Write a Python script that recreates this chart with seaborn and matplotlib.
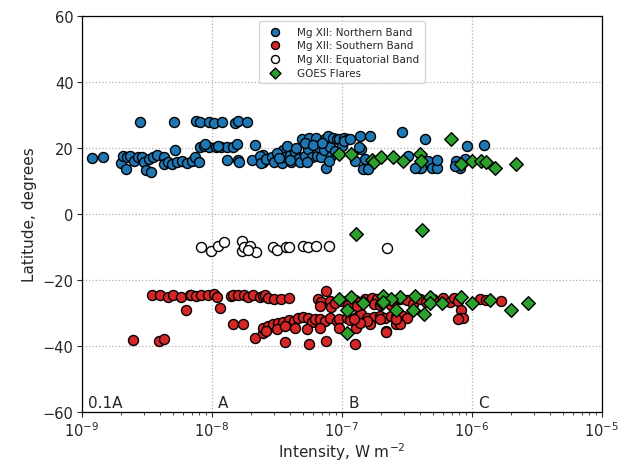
import numpy as np
import pandas as pd
import matplotlib
matplotlib.use("Agg")
import matplotlib.pyplot as plt
import seaborn as sns

# ---- data: log10(intensity [W m^-2]) and latitude [deg] ----
north_logI = [-8.92, -8.84, -8.70, -8.66, -8.68, -8.65, -8.63, -8.60, -8.57, -8.54,
              -8.52, -8.51, -8.47, -8.48, -8.45, -8.42, -8.37, -8.37, -8.34, -8.31,
              -8.28, -8.27, -8.23, -8.19, -8.15, -8.13, -8.10, -8.09, -8.06, -8.02,
              -7.97, -7.93, -7.88, -7.88, -7.84, -8.05, -7.95, -7.81, -7.67, -7.80,
              -7.79, -7.69, -7.61, -7.61,
              -8.55, -8.29, -8.12, -8.09, -8.02, -7.98, -7.92, -7.82, -7.80, -7.73,
              -7.63, -7.62, -7.58, -7.54, -7.52, -7.46, -7.45, -7.44, -7.40, -7.39,
              -7.36, -7.34, -7.32, -7.31, -7.28, -7.26, -7.25, -7.23, -7.20, -7.19,
              -7.18, -7.16, -7.14, -7.13, -7.12, -7.11, -7.09, -7.08, -7.07, -7.04,
              -7.02, -6.98, -6.95, -6.86, -6.78, -6.85, -6.82, -6.81,
              -7.50, -7.42, -7.35, -7.28, -7.22, -7.15, -7.05, -7.00, -7.10, -7.27,
              -7.40, -7.48,
              -6.98, -6.94, -6.87, -6.90, -6.84, -6.80, -6.54, -6.49, -6.36, -6.41,
              -6.39, -6.34, -6.31, -6.27, -6.27, -6.12, -6.09, -6.13, -6.04, -5.91,
              -6.07, -6.44, -6.05]
north_lat = [17.0, 17.4, 15.4, 13.6, 17.7, 17.2, 17.7, 16.0, 17.2, 17.4,
             15.7, 13.3, 12.9, 16.7, 17.4, 17.9, 17.4, 15.1, 15.7, 15.1,
             19.4, 15.7, 16.0, 15.4, 16.0, 17.2, 15.7, 20.4, 20.7, 20.2,
             20.2, 20.2, 20.2, 16.4, 20.2, 21.2, 20.5, 21.2, 20.9, 16.5,
             15.7, 16.5, 15.7, 18.0,
             28.0, 28.0, 28.3, 28.0, 27.8, 27.6, 27.8, 27.6, 28.3, 28.0,
             17.7, 15.4, 16.7, 17.4, 15.7, 15.4, 19.4, 17.2, 18.0, 15.7,
             18.7, 16.7, 15.7, 22.7, 17.7, 19.7, 23.0, 17.2, 23.2, 17.7,
             20.2, 17.2, 19.4, 22.7, 14.1, 23.7, 20.2, 17.7, 23.2, 22.7,
             22.7, 23.2, 22.7, 23.7, 23.7, 19.7, 16.7, 13.6,
             18.5, 20.5, 20.0, 21.5, 21.0, 21.5, 19.0, 20.5, 16.0, 15.8,
             16.5, 17.0,
             22.2, 22.7, 20.2, 16.1, 13.6, 13.6, 24.8, 17.7, 22.9, 14.1,
             14.1, 16.1, 14.1, 14.1, 16.5, 16.1, 14.1, 14.6, 20.5, 20.9,
             15.7, 14.1, 16.7]

south_logI = [-8.46, -8.40, -8.34, -8.30, -8.24, -8.17, -8.16, -8.12, -8.08, -8.03,
              -7.98, -7.96, -7.85, -7.84, -7.80, -7.75, -7.72, -7.68, -7.63, -7.61,
              -7.59, -7.57, -7.52, -7.47, -7.41,
              -8.20, -7.94, -7.84, -7.76, -8.61, -8.41, -8.37, -7.67, -7.61, -7.57,
              -7.12, -7.18, -7.16, -7.09, -7.08, -7.17,
              -7.61, -7.57, -7.53, -7.49, -7.45, -7.41, -7.37, -7.34, -7.30, -7.26,
              -7.23, -7.21, -7.17, -7.13, -7.09, -7.04, -7.02, -6.96, -6.94, -6.90,
              -6.87, -6.85, -6.81, -6.75, -6.71, -6.67, -6.62, -6.58, -6.53, -6.50,
              -7.58, -7.50, -7.44, -7.36, -7.27, -7.17, -7.02, -6.89, -6.78, -6.66,
              -6.58, -7.44, -7.25, -7.12, -6.90,
              -6.82, -6.77, -6.73, -6.65, -6.60, -6.55, -6.50, -6.75, -6.71, -6.62,
              -6.84, -6.45, -6.40, -6.35, -6.30, -6.22, -6.17, -6.14, -6.11, -6.08,
              -6.09, -6.07, -5.94, -5.89, -5.78, -6.55,
              -6.11, -6.66, -6.58, -6.71, -6.81, -6.86, -6.91,
              -7.00, -6.95, -6.90, -7.05, -6.88]
south_lat = [-24.4, -24.6, -25.0, -24.5, -25.2, -24.6, -24.4, -24.8, -24.4, -24.6,
             -24.3, -25.2, -24.8, -24.4, -24.5, -24.6, -25.0, -24.6, -25.0, -24.8,
             -24.5, -25.5, -25.8, -25.8, -25.5,
             -29.1, -28.6, -33.2, -33.2, -38.3, -38.5, -37.8, -37.5, -36.2, -34.4,
             -23.3, -25.8, -26.8, -26.3, -28.2, -27.9,
             -34.4, -33.9, -33.4, -32.9, -32.6, -32.2, -32.4, -31.4, -31.2, -31.4,
             -32.6, -31.9, -31.9, -32.4, -31.6, -32.4, -31.9, -31.4, -32.2, -31.4,
             -30.6, -30.4, -31.4, -31.2, -30.9, -31.4, -30.9, -31.2, -30.9, -31.4,
             -35.4, -34.9, -33.9, -34.4, -34.9, -34.4, -34.4, -34.4, -33.4, -35.4,
             -33.2, -38.7, -39.3, -38.5, -39.3,
             -25.8, -25.5, -25.8, -25.8, -26.3, -25.8, -26.1, -27.3, -27.6, -27.6,
             -26.8, -27.3, -25.8, -26.8, -25.8, -25.3, -26.8, -25.3, -26.3, -29.2,
             -31.4, -31.4, -25.8, -26.1, -26.5, -33.4,
             -31.9, -35.9, -31.9, -31.9, -32.4, -32.9, -31.9,
             -26.5, -27.5, -26.0, -27.0, -28.0]

equat_logI = [-8.08, -8.01, -7.95, -7.91, -7.77, -7.77, -7.75, -7.71, -7.66, -7.72,
              -7.53, -7.50, -7.43, -7.41, -7.30, -7.26, -7.20, -7.10, -6.65]
equat_lat = [-10.1, -11.2, -9.7, -8.4, -8.1, -11.2, -10.1, -9.7, -11.4, -10.9,
             -10.1, -10.9, -10.1, -10.1, -9.7, -10.1, -9.7, -9.7, -10.4]

goes_logI = [-7.02, -6.93, -6.77, -6.75, -6.70, -6.61, -6.53, -6.40, -6.39, -6.16,
             -6.08, -6.00, -5.93, -5.89, -5.82, -5.66,
             -6.89, -6.38,
             -7.02, -6.93, -6.96, -6.84, -6.69, -6.68, -6.58, -6.55, -6.44, -6.45,
             -6.37, -6.32, -6.32, -6.23, -6.08, -6.00, -5.86, -5.70, -5.57, -6.96,
             -6.62, -6.68]
goes_lat = [18.1, 18.1, 16.4, 15.7, 17.2, 17.2, 16.1, 18.2, 16.1, 22.9,
            15.1, 16.1, 16.1, 15.7, 14.1, 15.1,
            -6.0, -4.9,
            -25.8, -25.0, -29.1, -27.1, -27.0, -24.9, -29.1, -25.0, -24.9, -29.1,
            -30.2, -25.0, -27.0, -27.0, -25.0, -27.0, -26.0, -29.0, -27.0, -36.1,
            -25.8, -26.8]

class_labels = ["0.1A", "A", "B", "C"]
class_logI = [-8.95, -7.95, -6.95, -5.95]

labels = ["Mg XII: Northern Band", "Mg XII: Southern Band",
          "Mg XII: Equatorial Band", "GOES Flares"]

# ---- build frames ----
def frame(logI, lat):
    return pd.DataFrame({"intensity": 10.0 ** np.array(logI), "latitude": lat})

df_n = frame(north_logI, north_lat)
df_s = frame(south_logI, south_lat)
df_e = frame(equat_logI, equat_lat)
df_g = frame(goes_logI, goes_lat)

sns.set_style("white")
plt.rcParams["font.family"] = ["DejaVu Sans"]

fig = plt.figure(figsize=(6.39, 4.64), dpi=100)
ax = fig.add_axes([0.128, 0.110, 0.814, 0.853])

kw = dict(ax=ax, x="intensity", y="latitude", edgecolor="black", linewidth=1.0)
sns.scatterplot(data=df_n, color="#1f77b4", marker="o", s=52, label=labels[0], zorder=3, **kw)
sns.scatterplot(data=df_s, color="#d62728", marker="o", s=52, label=labels[1], zorder=3, **kw)
sns.scatterplot(data=df_e, color="white", marker="o", s=52, label=labels[2], zorder=3, **kw)
sns.scatterplot(data=df_g, color="#2ca02c", marker="D", s=48, label=labels[3], zorder=4, **kw)

ax.set_xscale("log")
ax.set_xlim(1e-9, 1e-5)
ax.set_ylim(-60, 60)
ax.set_yticks(np.arange(-60, 61, 20))
ax.grid(True, which="major", linestyle=":", color="#b0b0b0", linewidth=0.9)
ax.set_axisbelow(True)
for sp in ax.spines.values():
    sp.set_color("black")
    sp.set_linewidth(0.9)
ax.tick_params(axis="both", which="major", direction="out", length=3.5, labelsize=10.5,
               pad=2.5, bottom=True, left=True)
ax.tick_params(axis="x", which="minor", direction="out", length=2, bottom=True)

ax.set_xlabel("Intensity, W m$^{-2}$", fontsize=11, labelpad=1)
ax.set_ylabel("Latitude, degrees", fontsize=11, labelpad=4)

for lab, lx in zip(class_labels, class_logI):
    ax.text(10.0 ** lx, -57, lab, fontsize=11, ha="left", va="center")

leg = ax.legend(loc="upper center", fontsize=7.5, frameon=True, borderpad=0.5,
                handletextpad=1.2, labelspacing=0.35, markerscale=0.8)
leg.get_frame().set_edgecolor("#cccccc")

fig.savefig("out.png", dpi=100)
